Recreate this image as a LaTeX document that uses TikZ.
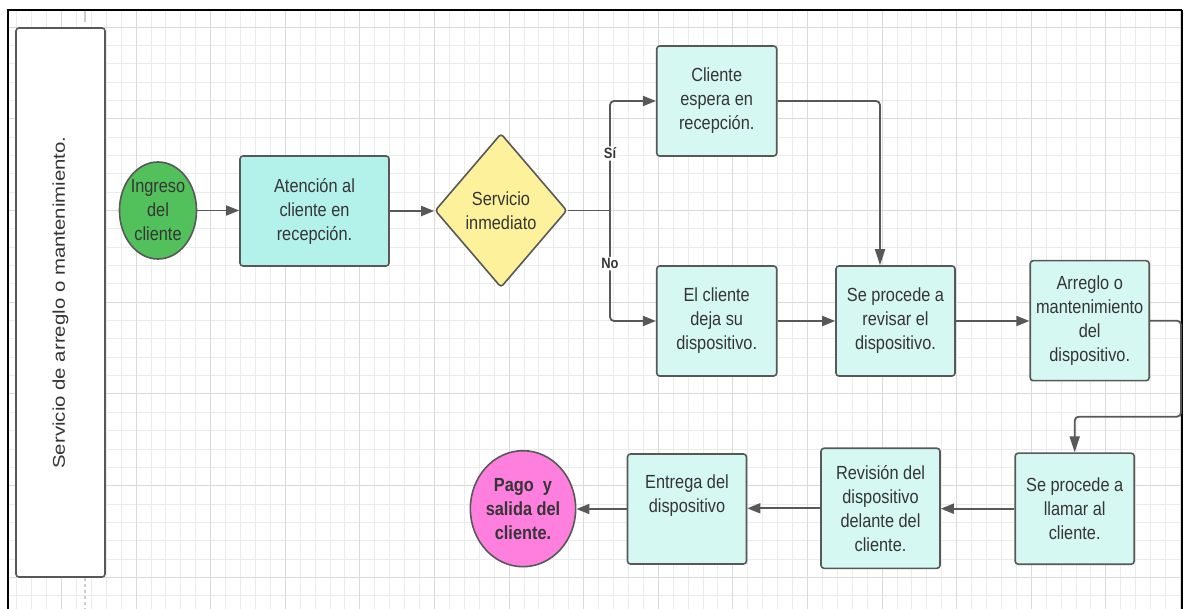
\documentclass[tikz,border=0pt]{standalone}
\usepackage{fontspec}
\setmainfont{Liberation Sans}
\newfontfamily\boxfont[FakeStretch=0.86]{Liberation Sans}
\newfontfamily\lanefont[FakeStretch=1.2]{Liberation Sans}
\usetikzlibrary{arrows.meta,shapes.geometric}

\definecolor{gridminor}{HTML}{EBEBEB}
\definecolor{gridmajor}{HTML}{DADADA}
\definecolor{edgegray}{HTML}{585858}
\definecolor{txt}{HTML}{353535}
\definecolor{tealA}{HTML}{B3F2EA}
\definecolor{tealB}{HTML}{D6F8F3}
\definecolor{greenS}{HTML}{52C15B}
\definecolor{yellowD}{HTML}{FDF29B}
\definecolor{pinkE}{HTML}{FF7FDF}

\tikzset{
  shapebase/.style={draw=edgegray, line width=1.6pt, align=center, text=txt,
    inner sep=0pt, font=\boxfont\fontsize{19}{24}\selectfont},
  procbox/.style={shapebase, rounded corners=3pt, fill=tealB,
    minimum width=119pt, minimum height=110pt},
  terminal/.style={shapebase, ellipse},
  decision/.style={shapebase, diamond, rounded corners=3pt, fill=yellowD},
  lane/.style={draw=edgegray, line width=1.6pt, rounded corners=3pt, fill=white,
    text=txt, inner sep=0pt, font=\lanefont\fontsize{17}{20}\selectfont},
  flow/.style={draw=edgegray, line width=1.8pt, rounded corners=4pt,
    -{Triangle[length=13pt,width=10pt]}},
  vflow/.style={flow, -{Triangle[length=16pt,width=10pt]}},
  plainline/.style={draw=edgegray, line width=1.8pt},
  branchlab/.style={fill=white, text=txt, inner sep=1.5pt,
    font=\boxfont\bfseries\fontsize{15}{15}\selectfont},
}

\begin{document}
\begin{tikzpicture}[x=1pt, y=-1pt]
\useasboundingbox (0,0) rectangle (1184,609);

% background grid, snapped to whole pixels
\foreach \k in {-3,...,75}
  \draw[gridminor, line width=1pt] ({round(61+14.92*\k)+0.5},10) -- ({round(61+14.92*\k)+0.5},609);
\foreach \k in {0,...,31}
  \draw[gridminor, line width=1pt] (8,{round(26.7+18.34*\k)+0.5}) -- (1182,{round(26.7+18.34*\k)+0.5});
\foreach \k in {0,...,15}
  \draw[gridmajor, line width=1pt] ({round(61+74.6*\k)+0.5},10) -- ({round(61+74.6*\k)+0.5},609);
\foreach \k in {0,...,6}
  \draw[gridmajor, line width=1pt] (8,{round(26.7+91.7*\k)+0.5}) -- (1182,{round(26.7+91.7*\k)+0.5});

% page frame
\draw[black, line width=1.2pt] (8,609) -- (8,10) -- (1182,10);
\draw[black, line width=2pt] (1182,10) -- (1182,609);

% lane divider stubs
\draw[gray!40, line width=2pt] (85,11) -- (85,22);
\draw[gray!40, line width=2pt, dashed] (85,578) -- (85,609);

% swimlane header
\node[lane, rotate=90, minimum width=549pt, minimum height=89pt] (lane) at (60.5,302.5)
  {Servicio de arreglo o mantenimiento.};

% flow nodes
\node[terminal, fill=greenS, minimum width=76pt, minimum height=97pt] (ingreso) at (158,210.5)
  {Ingreso\\del\\cliente};
\node[procbox, fill=tealA, minimum width=149pt] (atencion) at (314.5,211)
  {Atención al\\cliente en\\recepción.};
\node[decision, minimum width=132pt, minimum height=154pt] (servicio) at (501,210.5)
  {Servicio\\inmediato};
\node[procbox, minimum width=120pt] (espera) at (716.7,101)
  {Cliente\\espera en\\recepción.};
\node[procbox, minimum width=120pt] (deja) at (716.7,321)
  {El cliente\\deja su\\dispositivo.};
\node[procbox] (revisar) at (895.5,321)
  {Se procede a\\revisar el\\dispositivo.};
\node[procbox, minimum height=120pt] (arreglo) at (1089.7,320.7)
  {Arreglo o\\mantenimiento\\del\\dispositivo.};
\node[procbox, minimum height=111pt] (llamar) at (1074.7,508.7)
  {Se procede a\\llamar al\\cliente.};
\node[procbox, minimum height=120pt] (revision) at (880.5,508.3)
  {Revisión del\\dispositivo\\delante del\\cliente.};
\node[procbox] (entrega) at (687,509)
  {Entrega del\\dispositivo\\[6pt]};
\node[terminal, fill=pinkE, minimum width=91pt, minimum height=116pt,
      font=\boxfont\bfseries\fontsize{19}{24}\selectfont] (pago) at (523,508.7)
  {Pago\ \ y\\salida del\\cliente.};

% connectors
\coordinate (split) at (610,210.5);
\draw[flow] (ingreso.east) -- (ingreso.east -| atencion.west);
\draw[flow] (atencion.east) -- (atencion.east -| servicio.west);
\draw[plainline] (servicio.east) -- (split);
\draw[flow] (split) |- node[pos=0.26, branchlab] {Sí} (espera.west);
\draw[flow] (split) |- node[pos=0.24, branchlab] {No} (deja.west);
\draw[vflow] (espera.east) -| ([xshift=-15.5pt]revisar.north);
\draw[flow] (deja.east) -- (deja.east -| revisar.west);
\draw[flow] (revisar.east) -- (revisar.east -| arreglo.west);
\draw[vflow] (arreglo.east) -| ++(31,96) -| (llamar.north);
\draw[flow] (llamar.west) -- (llamar.west -| revision.east);
\draw[flow] (revision.west) -- (revision.west -| entrega.east);
\draw[flow] (entrega.west) -- (entrega.west -| pago.east);
\end{tikzpicture}
\end{document}
